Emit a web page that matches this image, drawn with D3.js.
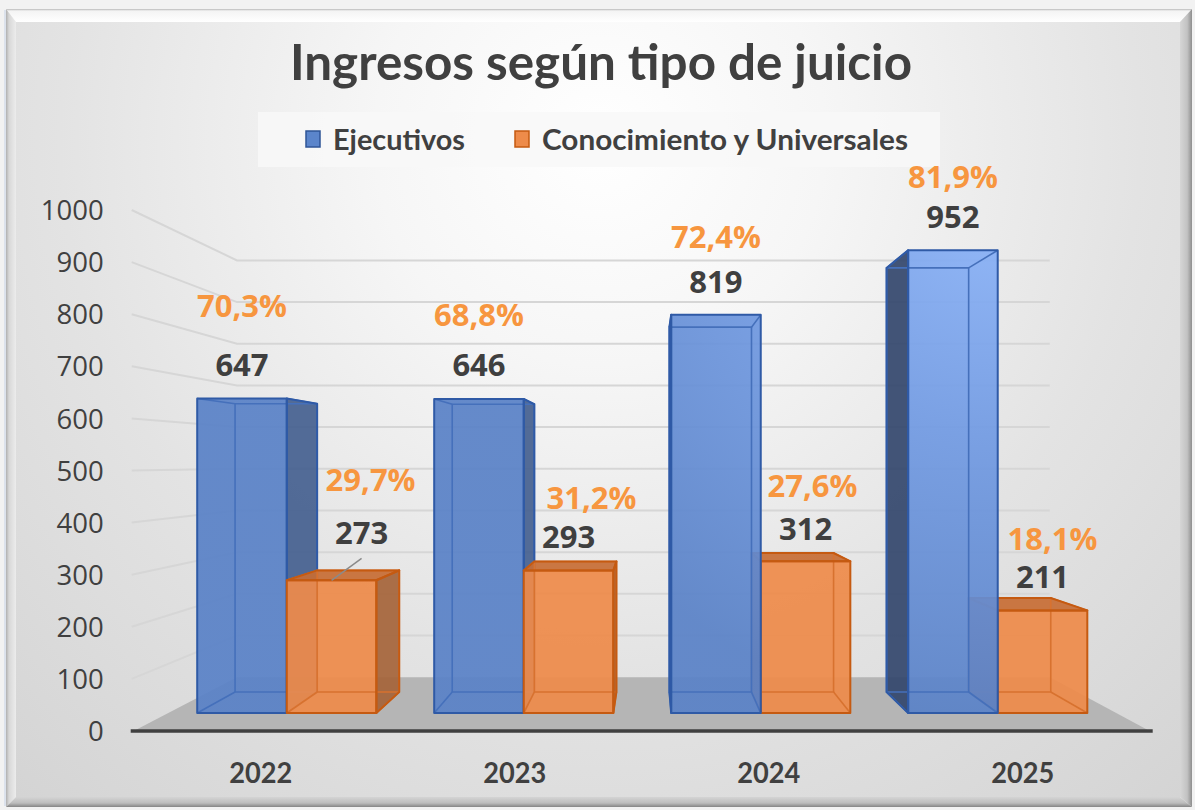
<!DOCTYPE html>
<html><head><meta charset="utf-8">
<script src="https://cdn.jsdelivr.net/npm/d3@7"></script>
<style>html,body{margin:0;padding:0;background:#f2f2f2;}svg{display:block}</style>
</head><body>
<svg id="c" width="1195" height="810"></svg>
<script>
// ---------------- data ----------------
const chartTitle = "Ingresos según tipo de juicio";
const years = ["2022", "2023", "2024", "2025"];
const seriesNames = ["Ejecutivos", "Conocimiento y Universales"];
const ejecutivos = [647, 646, 819, 952];
const conocimiento = [273, 293, 312, 211];
const pctEjecutivos = ["70,3%", "68,8%", "72,4%", "81,9%"];
const pctConocimiento = ["29,7%", "31,2%", "27,6%", "18,1%"];
const yTicks = [0, 100, 200, 300, 400, 500, 600, 700, 800, 900, 1000];

// label nudges (pixels) [dx, dy] relative to default placement
const valueNudge = [[[0,0],[0,-1],[0,0],[0,0]], [[30,-14],[0,-1],[0,1],[0,0]]];
const pctNudge   = [[[0,-81],[0,-73],[0,-67],[0,-62]], [[39,-89],[23,-62],[7,-64],[10,-60]]];

// ---------------- setup ----------------
const svg = d3.select("#c");
const defs = svg.append("defs");
function linGrad(id, x1, y1, x2, y2, stops) {
  const g = defs.append("linearGradient").attr("id", id)
    .attr("x1", x1).attr("y1", y1).attr("x2", x2).attr("y2", y2);
  stops.forEach(([o, c]) => g.append("stop").attr("offset", o).attr("stop-color", c));
}
const bg = defs.append("radialGradient").attr("id", "bgGrad").attr("gradientUnits", "userSpaceOnUse")
  .attr("cx", 600).attr("cy", 140).attr("r", 900);
[[0, "#ffffff"], [0.25, "#f6f6f6"], [0.6, "#e3e3e3"], [1, "#d3d3d3"]]
  .forEach(([o, c]) => bg.append("stop").attr("offset", o).attr("stop-color", c));
const bl = defs.append("radialGradient").attr("id", "gBlue").attr("gradientUnits", "userSpaceOnUse")
  .attr("cx", 1000).attr("cy", 200).attr("r", 520);
[[0, "#8db5fa"], [0.45, "#729be3"], [1, "#5a82c7"]]
  .forEach(([o, c]) => bl.append("stop").attr("offset", o).attr("stop-color", c));
linGrad("bevTop", 0, 0, 0, 1, [[0, "#b9b9b9"], [0.15, "#f4f4f4"], [1, "#ffffff"]]);
linGrad("bevLeft", 0, 0, 1, 0, [[0, "#b0b0b0"], [0.3, "#d8d8d8"], [1, "#ececec"]]);
linGrad("bevRight", 0, 0, 1, 0, [[0, "#d6d6d6"], [0.6, "#c2c2c2"], [1, "#8e8e8e"]]);
linGrad("bevBottom", 0, 0, 0, 1, [[0, "#d4d4d4"], [0.6, "#bdbdbd"], [1, "#858585"]]);

// frame
const O = {x0: 6, y0: 9, x1: 1192, y1: 807};
const I = {x0: 16, y0: 22, x1: 1180, y1: 797};
svg.append("rect").attr("x", 0).attr("y", 0).attr("width", 1195).attr("height", 810).attr("fill", "#f2f2f2");
svg.append("line").attr("x1", 5).attr("x2", 5).attr("y1", 10).attr("y2", 806).attr("stroke", "#c6d2e6").attr("stroke-width", 1);
const pts = a => a.map(p => p.join(",")).join(" ");
svg.append("polygon").attr("points", pts([[O.x0,O.y0],[O.x1,O.y0],[I.x1,I.y0],[I.x0,I.y0]])).attr("fill", "url(#bevTop)");
svg.append("polygon").attr("points", pts([[O.x0,O.y0],[I.x0,I.y0],[I.x0,I.y1],[O.x0,O.y1]])).attr("fill", "url(#bevLeft)");
svg.append("polygon").attr("points", pts([[O.x1,O.y0],[O.x1,O.y1],[I.x1,I.y1],[I.x1,I.y0]])).attr("fill", "url(#bevRight)");
svg.append("polygon").attr("points", pts([[O.x0,O.y1],[I.x0,I.y1],[I.x1,I.y1],[O.x1,O.y1]])).attr("fill", "url(#bevBottom)");
svg.append("rect").attr("x", I.x0).attr("y", I.y0).attr("width", I.x1 - I.x0).attr("height", I.y1 - I.y0).attr("fill", "url(#bgGrad)");

// ---------------- title ----------------
svg.append("text").attr("x", 601).attr("y", 80).attr("text-anchor", "middle")
  .attr("font-family", "Lato, sans-serif").attr("font-weight", 700).attr("font-size", 50)
  .attr("fill", "#404040").attr("textLength", 622).attr("lengthAdjust", "spacingAndGlyphs").text(chartTitle);

// ---------------- legend ----------------
const lg = svg.append("g");
lg.append("rect").attr("x", 258).attr("y", 112).attr("width", 682).attr("height", 55).attr("fill", "#f8f8f8").attr("opacity", 0.85);
const legendX = [306, 515];
const legendW = [132, 366];
const legendCol = [["#5b85cb", "#2f5597"], ["#ee8b4a", "#c55a11"]];
seriesNames.forEach((sn, j) => {
  lg.append("rect").attr("x", legendX[j]).attr("y", 131).attr("width", 14).attr("height", 16)
    .attr("fill", legendCol[j][0]).attr("stroke", legendCol[j][1]).attr("stroke-width", 1.5);
  lg.append("text").attr("x", legendX[j] + 27).attr("y", 150)
    .attr("font-family", "Lato, sans-serif").attr("font-weight", 700).attr("font-size", 29)
    .attr("fill", "#404040").attr("textLength", legendW[j]).attr("lengthAdjust", "spacingAndGlyphs").text(sn);
});

// ---------------- scales & perspective ----------------
const V = {x: 650, y: 462};
const S = {front: 1, barFront: 0.933, barBack: 0.855, wall: 0.80};
const P = (X, Y, s) => [V.x + (X - V.x) * s, V.y + (Y - V.y) * s];

const x0 = d3.scaleBand().domain(years).range([133.7, 1149.7]).paddingInner(0.244).paddingOuter(0.122);
const x1 = d3.scaleBand().domain(seriesNames).range([0, x0.bandwidth()]);
const y = d3.scaleLinear().domain([0, 1000]).range([731, 210]);
const xL = x0.range()[0], xR = x0.range()[1];

// floor
const floorPts = [P(xL, y(0), S.front), P(xR, y(0), S.front), P(xR, y(0), S.wall), P(xL, y(0), S.wall)];
svg.append("polygon").attr("points", pts(floorPts)).attr("fill", "#b5b5b5");

// gridlines (back wall + left wall)
const grid = svg.append("g").attr("fill", "none").attr("stroke", "#d6d6d6").attr("stroke-width", 2);
yTicks.filter(v => v > 0).forEach(v => {
  const a = P(xL - 2, y(v), S.front), b = P(xL, y(v), S.wall), c = P(xR, y(v), S.wall);
  grid.append("polyline").attr("points", pts([a, b, c]));
});

// axis line (0)
svg.append("line").attr("x1", xL - 3).attr("x2", xR + 3).attr("y1", y(0)).attr("y2", y(0))
  .attr("stroke", "#404040").attr("stroke-width", 3.5);

// y tick labels
const yAxis = d3.axisLeft(y).tickValues(yTicks).tickFormat(d3.format("d")).tickSize(0).tickPadding(0);
const yg = svg.append("g").attr("transform", `translate(${xL - 30},0)`).call(yAxis);
yg.select(".domain").remove();
yg.selectAll("text").attr("font-family", "'Open Sans', sans-serif").attr("font-size", 27.5)
  .attr("fill", "#404040").attr("dy", "0.35em");

// category labels
const xAxis = d3.axisBottom(x0).tickSize(0).tickPadding(0);
const xg = svg.append("g").attr("transform", `translate(0,${y(0) + 52})`).call(xAxis);
xg.select(".domain").remove();
xg.selectAll("text").attr("font-family", "Lato, sans-serif").attr("font-weight", 700)
  .attr("font-size", 28).attr("fill", "#404040").attr("dy", 0)
  .attr("textLength", 63).attr("lengthAdjust", "spacingAndGlyphs");

// ---------------- bars ----------------
const style = [
  {front: "url(#gBlue)", stroke: "#2f5aa6", hidden: "#4570bb", sideR: "#44608f", sideL: "#33466c", top: "#4a6fb5", op: 0.93},
  {front: "#ee8b4a", stroke: "#c55a11", hidden: "#d8722f", sideR: "#a5643a", sideL: "#b8683a", top: "#c76c34", op: 0.93}
];
const values = [ejecutivos, conocimiento];
const pcts = [pctEjecutivos, pctConocimiento];
const bars = [];
years.forEach((yr, i) => seriesNames.forEach((sn, j) => {
  const X0 = x0(yr) + x1(sn), X1 = X0 + x1.bandwidth();
  bars.push({i, j, yr, v: values[j][i], X0, X1});
}));
bars.sort((a, b) => Math.abs((b.X0 + b.X1) / 2 - V.x) - Math.abs((a.X0 + a.X1) / 2 - V.x));

const barG = svg.append("g");
const path = a => "M" + a.map(p => p.join(",")).join("L") + "Z";
bars.forEach(b => {
  const st = style[b.j];
  const Yt = y(b.v), Yb = y(0);
  const f = [P(b.X0, Yt, S.barFront), P(b.X1, Yt, S.barFront), P(b.X1, Yb, S.barFront), P(b.X0, Yb, S.barFront)];
  const k = [P(b.X0, Yt, S.barBack), P(b.X1, Yt, S.barBack), P(b.X1, Yb, S.barBack), P(b.X0, Yb, S.barBack)];
  const g = barG.append("g");
  const vis = [];
  if (V.x > b.X1) vis.push({pts: [f[1], k[1], k[2], f[2]], fill: st.sideR});
  if (V.x < b.X0) vis.push({pts: [f[0], k[0], k[3], f[3]], fill: st.sideL});
  if (Yt > V.y) vis.push({pts: [f[0], f[1], k[1], k[0]], fill: st.top});
  vis.forEach(fc => g.append("path").attr("d", path(fc.pts)).attr("fill", fc.fill).attr("fill-opacity", 0.92));
  g.append("path").attr("d", path(f)).attr("fill", st.front).attr("fill-opacity", st.op);
  // hidden edges (seen through the translucent faces)
  const he = g.append("g").attr("stroke", st.hidden).attr("stroke-width", 1.6).attr("fill", "none");
  he.append("path").attr("d", path(k));
  for (let q = 0; q < 4; q++) he.append("line").attr("x1", f[q][0]).attr("y1", f[q][1]).attr("x2", k[q][0]).attr("y2", k[q][1]);
  vis.forEach(fc => g.append("path").attr("d", path(fc.pts)).attr("fill", "none").attr("stroke", st.stroke).attr("stroke-width", 2).attr("stroke-linejoin", "round"));
  g.append("path").attr("d", path(f)).attr("fill", "none").attr("stroke", st.stroke).attr("stroke-width", 2).attr("stroke-linejoin", "round");
  b.topFront = f[0][1];
  b.cx = (f[0][0] + f[1][0]) / 2;
});

// ---------------- data labels ----------------
const lab = svg.append("g").attr("font-family", "'Open Sans', sans-serif").attr("font-weight", 700)
  .attr("font-size", 31).attr("text-anchor", "middle");
bars.forEach(b => {
  const vn = valueNudge[b.j][b.i], pn = pctNudge[b.j][b.i];
  const vx = b.cx + vn[0], vy = b.topFront - 22 + vn[1];
  if (Math.abs(vn[0]) > 5) {
    lab.append("line").attr("x1", vx).attr("y1", vy + 14).attr("x2", b.cx).attr("y2", b.topFront)
      .attr("stroke", "#8a8a8a").attr("stroke-width", 1.5);
  }
  lab.append("text").attr("x", vx).attr("y", vy).attr("fill", "#3f3f3f").text(d3.format("d")(b.v));
  lab.append("text").attr("x", b.cx + pn[0]).attr("y", b.topFront + pn[1]).attr("fill", "#f7963f").text(pcts[b.j][b.i]);
});
</script>
</body></html>
